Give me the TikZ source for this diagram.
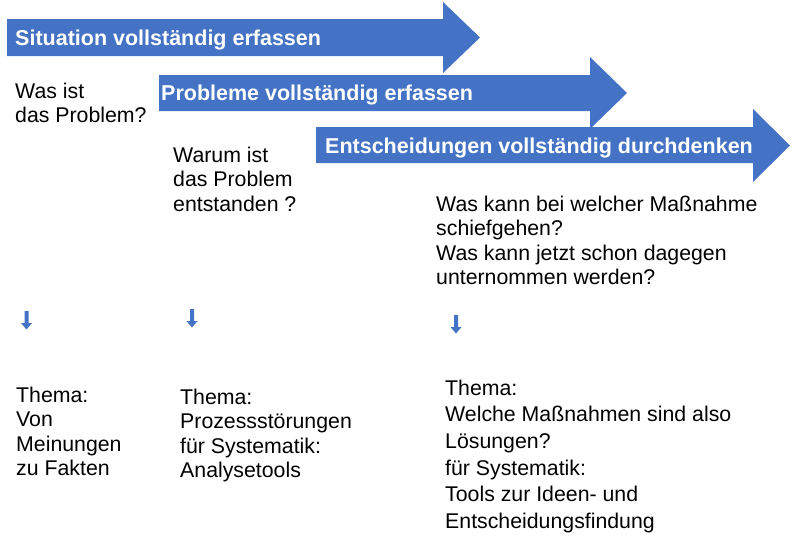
\documentclass[tikz,border=0pt]{standalone}
\usepackage{fontspec}
\setmainfont{Liberation Sans}
\definecolor{pblue}{HTML}{4472C4}
\tikzset{
  bigarrow/.style={fill=pblue, draw=none},
  downarrow/.style={fill=pblue, draw=none},
  arrowlabel/.style={anchor=base west, inner sep=0pt, text=white, font=\fontsize{21.5}{25}\selectfont\bfseries},
  bodytext/.style={anchor=north west, inner sep=0pt, align=left, font=\fontsize{21.3}{24.5}\selectfont},
  widetext/.style={anchor=north west, inner sep=0pt, align=left, font=\fontsize{21.3}{26.6}\selectfont},
}
\begin{document}
\begin{tikzpicture}[x=1pt,y=-1pt]
\useasboundingbox[fill=white] (0,0) rectangle (800,544);
% big arrows
\fill[bigarrow] (7,19) -- (443,19) -- (443,2) -- (480,37.5) -- (443,73) -- (443,56) -- (7,56) -- cycle;
\fill[bigarrow] (159,75) -- (590,75) -- (590,57) -- (627,93) -- (590,129) -- (590,111) -- (159,111) -- cycle;
\fill[bigarrow] (316,127) -- (753,127) -- (753,109) -- (790,145.5) -- (753,182) -- (753,163) -- (316,163) -- cycle;
\node[arrowlabel] (l1) at (15,45) {Situation vollständig erfassen};
\node[arrowlabel] (l2) at (161,100) {Probleme vollständig erfassen};
\node[arrowlabel] (l3) at (325,153) {Entscheidungen vollständig durchdenken};
% questions
\node[bodytext] (q1) at (15,80.85) {\strut Was ist\\das Problem?};
\node[bodytext] (q2) at (173,144.85) {\strut Warum ist\\das Problem\\entstanden ?};
\node[bodytext] (q3) at (436,193.85) {\strut Was kann bei welcher Maßnahme\\schiefgehen?\\Was kann jetzt schon dagegen\\unternommen werden?};
% small down arrows
\fill[downarrow] (24.5,311) -- (28.5,311) -- (28.5,323) -- (32,323) -- (26.5,329.5) -- (21,323) -- (24.5,323) -- cycle;
\fill[downarrow] (190,309) -- (194,309) -- (194,321) -- (197.5,321) -- (192,327.5) -- (186.5,321) -- (190,321) -- cycle;
\fill[downarrow] (454,315) -- (458,315) -- (458,327) -- (461.5,327) -- (456,333.5) -- (450.5,327) -- (454,327) -- cycle;
% themes
\node[bodytext] (t1) at (16,384.85) {\strut Thema:\\Von\\Meinungen\\zu Fakten};
\node[bodytext] (t2) at (180,386.85) {\strut Thema:\\Prozessstörungen\\für Systematik:\\Analysetools};
\node[widetext] (t3) at (445,376.5) {\strut Thema:\\Welche Maßnahmen sind also\\Lösungen?\\für Systematik:\\Tools zur Ideen- und\\Entscheidungsfindung};
\end{tikzpicture}
\end{document}
